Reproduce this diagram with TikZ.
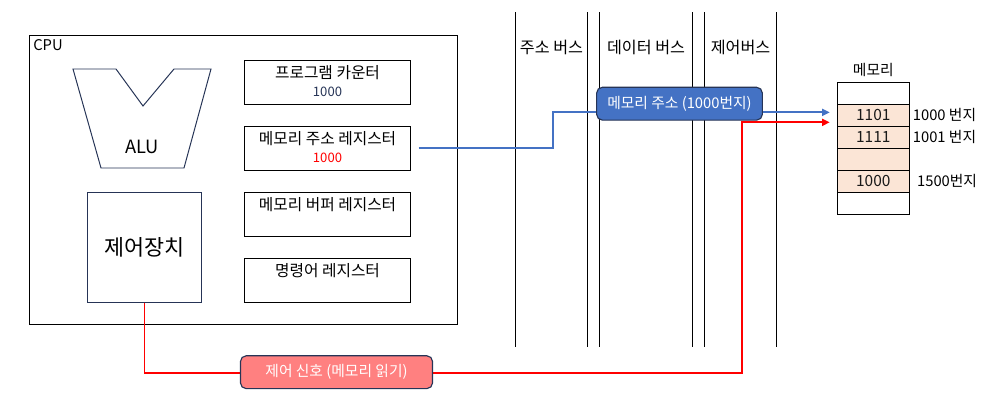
\documentclass[tikz,border=0pt]{standalone}
\usepackage{fontspec}
\setmainfont{Noto Sans CJK KR}
\usetikzlibrary{arrows.meta, positioning}
\definecolor{boxblue}{RGB}{68,114,196}
\definecolor{boxred}{RGB}{255,128,128}
\definecolor{cellpeach}{RGB}{251,229,214}
\definecolor{navyline}{RGB}{38,52,86}

\begin{document}
\begin{tikzpicture}[x=0.025cm, y=-0.025cm,
  txt/.style={font=\fontsize{10.5}{12}\selectfont, inner sep=0pt},
  regtxt/.style={font=\fontsize{11.2}{13}\selectfont, inner sep=0pt},
  bustxt/.style={font=\fontsize{11.5}{13}\selectfont, inner sep=0pt},
  regbox/.style={draw, line width=0.7pt, minimum width=4.125cm, minimum height=1.09cm, inner sep=0pt},
  cell/.style={draw, line width=0.7pt, minimum width=1.8cm, minimum height=0.55cm, inner sep=0pt,
    font=\fontsize{11}{13}\selectfont, text=black!90},
  bus/.style={line width=0.6pt},
  tag/.style={draw=navyline, line width=0.8pt, rounded corners=4pt, text=white,
    font=\fontsize{10.5}{12}\selectfont, inner sep=0pt},
  addrline/.style={boxblue, line width=1.4pt, -{Triangle[length=1.9mm, width=1.7mm]}},
  sigline/.style={red, line width=1.4pt, -{Triangle[length=1.9mm, width=1.7mm]}}]
  \useasboundingbox (0,0) rectangle (999,402);

  \node[draw, line width=0.7pt, minimum width=10.675cm, minimum height=7.2cm] (cpu) at (243.5,180) {};
  \node[font=\fontsize{10.5}{12}\selectfont, anchor=north west, inner sep=0pt] (cpulabel) at (33,39) {CPU};

  \draw[navyline, line width=0.7pt] (73,69) -- (116,69) -- (143,106) -- (174,69) -- (211,69)
    -- (184,168) -- (101,168) -- cycle;
  \node[font=\fontsize{13}{15}\selectfont] (alu) at (142,147) {ALU};

  \node[draw=navyline, line width=0.7pt, minimum width=2.825cm, minimum height=2.725cm,
    font=\fontsize{15.5}{18}\selectfont] (cu) at (144.5,247.5) {제어장치};

  \node[regbox] (pc) at (327.5,82.3) {};
  \node[regtxt] (pctitle) at (327.5,73) {프로그램 카운터};
  \node[txt, font=\fontsize{9.3}{11}\selectfont, text=navyline] (pcval) at (327.5,91.5) {1000};

  \node[regbox] (mar) at (327.5,148.3) {};
  \node[regtxt] (martitle) at (327.5,139) {메모리 주소 레지스터};
  \node[txt, font=\fontsize{9.3}{11}\selectfont, text=red] (marval) at (327.5,157.5) {1000};

  \node[regbox] (mbr) at (327.5,214.3) {};
  \node[regtxt] (mbrtitle) at (327.5,205) {메모리 버퍼 레지스터};

  \node[regbox] (ir) at (327.5,280.3) {};
  \node[regtxt] (irtitle) at (327.5,271) {명령어 레지스터};

  \foreach \bx in {515.5,587.5,599.3,692.7,704.3,776.7}
    \draw[bus] (\bx,12) -- (\bx,346.5);
  \node[bustxt] (addrbus) at (551.5,47) {주소 버스};
  \node[bustxt] (databus) at (646,47) {데이터 버스};
  \node[bustxt] (ctrlbus) at (740.5,47) {제어버스};

  \foreach \i in {0,...,5}
    \node[cell] (m\i) at (873.3,93.3+22*\i) {};
  \foreach \i/\v in {1/1101,2/1111,3/,4/1000}
    \node[cell, fill=cellpeach] at (m\i) {\v};
  \node[txt] (memtitle) at ([yshift=8.3pt]m0.north) {메모리};
  \node[txt, anchor=west] (adr1) at ([xshift=2pt]m1.east) {1000 번지};
  \node[txt, anchor=west] (adr2) at ([xshift=2pt]m2.east) {1001 번지};
  \node[txt, anchor=west] (adr3) at ([xshift=5pt]m4.east) {1500번지};

  \coordinate (addrturn) at (553,148.3);
  \draw[addrline] ([xshift=5.7pt]mar.east) -- (addrturn) |- ([xshift=-5pt,yshift=2.1pt]m1.west);
  \node[tag, fill=boxblue, minimum width=4.14cm, minimum height=0.82cm] (addrtag) at (679.5,103.7)
    {메모리 주소 (1000번지)};

  \coordinate (sigturn) at (742,372.7);
  \draw[sigline] (cu.south) |- (sigturn) |- ([xshift=-5pt,yshift=-5pt]m1.west);
  \node[tag, fill=boxred, minimum width=4.8cm, minimum height=0.82cm] (sigtag) at (336.5,372.2)
    {제어 신호 (메모리 읽기)};
\end{tikzpicture}
\end{document}
